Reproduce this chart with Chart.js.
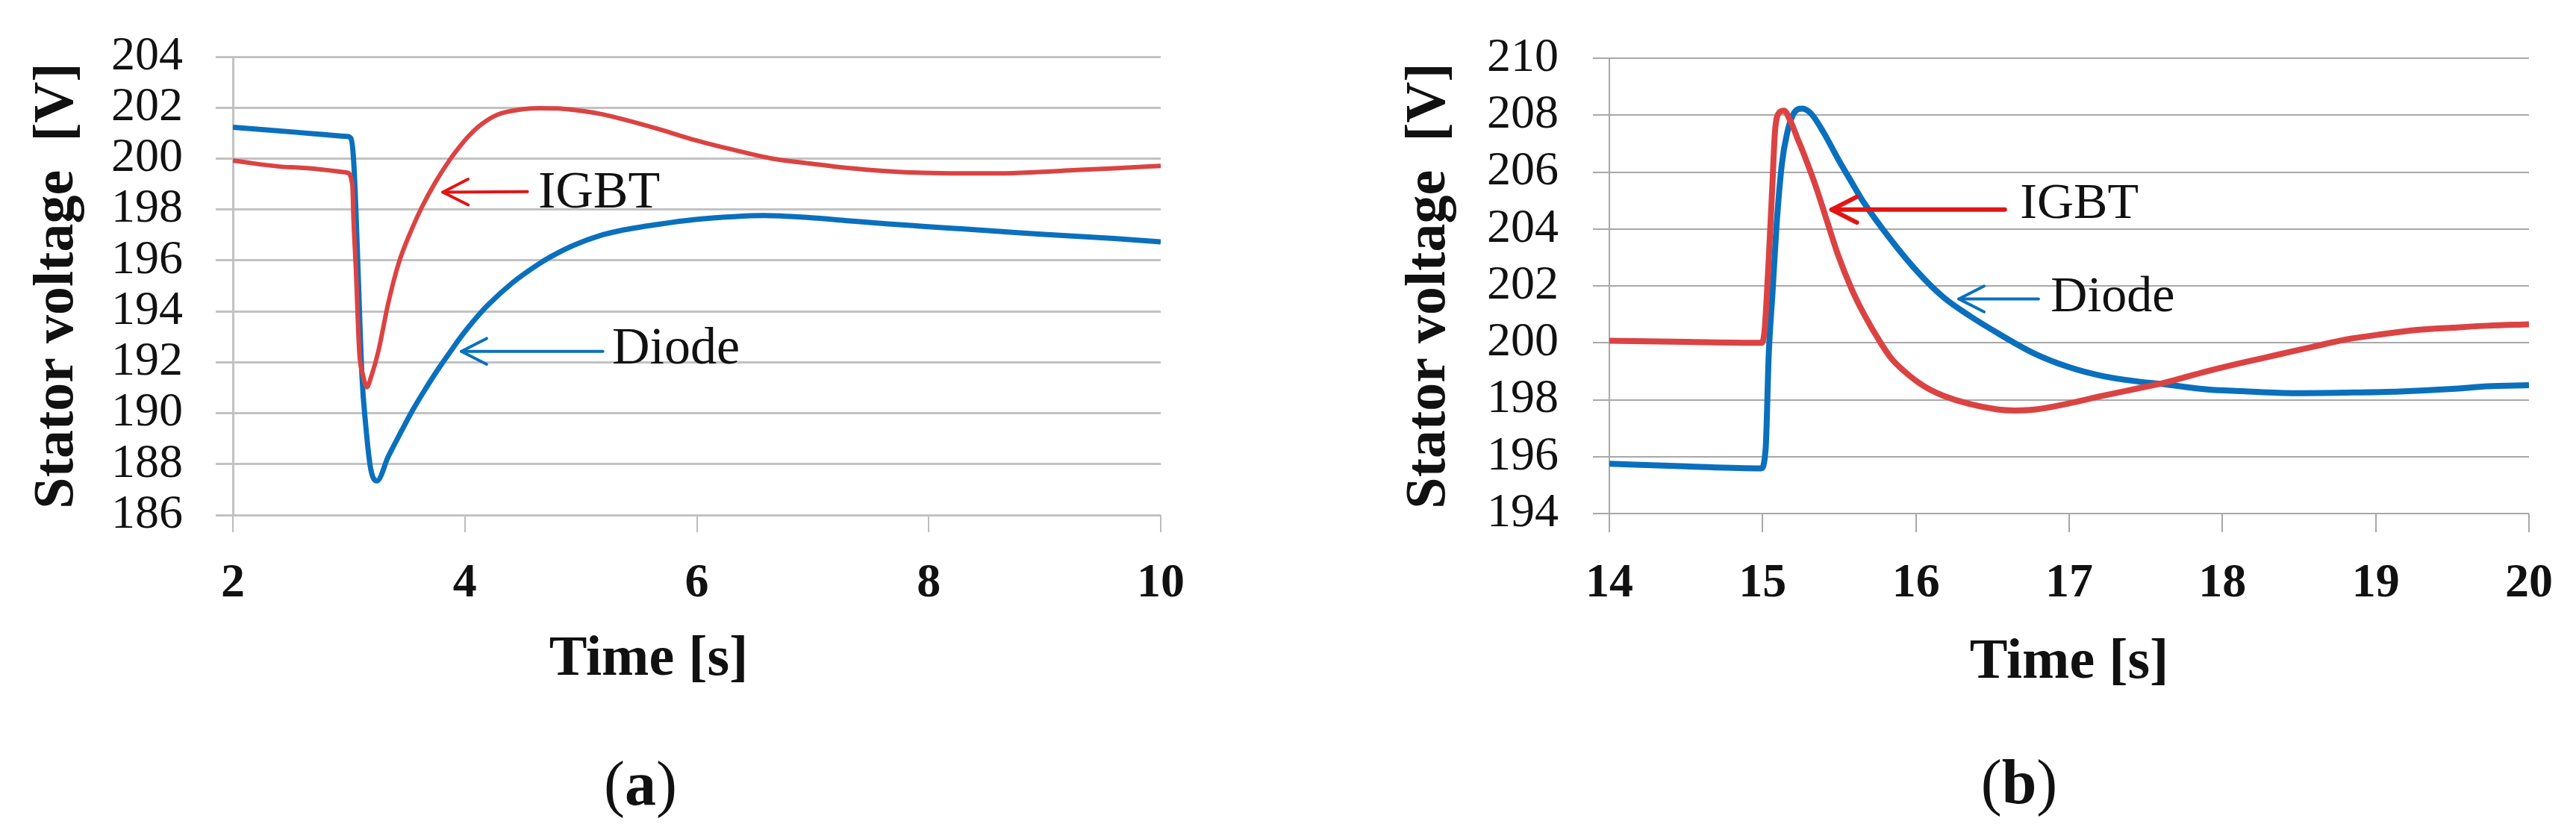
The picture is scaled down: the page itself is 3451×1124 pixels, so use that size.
<!DOCTYPE html>
<html>
<head>
<meta charset="utf-8">
<script src="https://cdn.jsdelivr.net/npm/chart.js@4.4.1/dist/chart.umd.min.js"></script>
<style>
  html, body { margin: 0; padding: 0; background: #fff; }
  #wrap { position: relative; width: 3451px; height: 1124px; overflow: hidden; background: #fff; }
  canvas { position: absolute; top: 0; }
  .lbl { position: absolute; font-family: 'Liberation Serif', 'Times New Roman', serif; color: #111;
         line-height: 1; white-space: nowrap; transform: translateY(-50%); }
  .cap { position: absolute; font-family: 'Liberation Serif', 'Times New Roman', serif; color: #111;
         line-height: 1; font-size: 84px; white-space: nowrap; transform: translate(-50%, -50%); }
</style>
</head>
<body>
<div id="wrap">
  <canvas id="cA" width="1738" height="1124" style="left:0px;width:1738px;height:1124px"></canvas>
  <canvas id="cB" width="1613" height="1124" style="left:1838px;width:1613px;height:1124px"></canvas>
  <div class="cap" style="left:858px;top:1050px">(<b>a</b>)</div>
  <div class="cap" style="left:2705px;top:1048px">(<b>b</b>)</div>
  <div id="lA1" class="lbl" style="font-size:70px">IGBT</div>
  <div id="lA2" class="lbl" style="font-size:70px">Diode</div>
  <div id="lB1" class="lbl" style="font-size:68px">IGBT</div>
  <div id="lB2" class="lbl" style="font-size:68px">Diode</div>
</div>
<script>
// ---------- Data ----------
// Chart (a): time 2..10 s
const igbtTimeA = [2.00, 2.50, 2.985, 3.03, 3.04, 3.06, 3.09, 3.124, 3.156, 3.19, 3.253, 3.34, 3.43, 3.54, 3.63, 3.75, 3.87, 3.97, 4.03, 4.13, 4.28, 4.50, 4.65, 4.80, 4.94, 5.16, 5.34, 5.67, 5.99, 6.32, 6.65, 6.97, 7.30, 7.63, 7.95, 8.28, 8.61, 8.94, 9.27, 9.60, 10.0];
const igbtVoltA = [199.92, 199.66, 199.45, 198.95, 197.6, 195.7, 192.4, 191.45, 191.02, 191.4, 192.41, 194.33, 195.9, 197.2, 198.1, 199.1, 199.95, 200.55, 200.87, 201.3, 201.72, 201.94, 201.98, 201.97, 201.91, 201.76, 201.57, 201.16, 200.72, 200.34, 200.0, 199.81, 199.63, 199.51, 199.44, 199.42, 199.42, 199.47, 199.55, 199.62, 199.71];
const diodeTimeA = [2.00, 2.50, 2.98, 3.017, 3.04, 3.06, 3.08, 3.113, 3.145, 3.188, 3.242, 3.34, 3.45, 3.55, 3.66, 3.77, 3.88, 3.98, 4.09, 4.20, 4.41, 4.63, 4.75, 4.94, 5.16, 5.34, 5.67, 5.99, 6.32, 6.58, 6.97, 7.30, 7.63, 7.95, 8.28, 8.61, 8.94, 9.27, 9.60, 10.0];
const diodeVoltA = [201.23, 201.05, 200.87, 200.80, 200.0, 198.07, 195.5, 191.45, 189.54, 187.82, 187.34, 188.30, 189.27, 190.12, 190.95, 191.73, 192.45, 193.08, 193.70, 194.25, 195.12, 195.84, 196.17, 196.6, 196.97, 197.17, 197.42, 197.61, 197.72, 197.76, 197.68, 197.56, 197.44, 197.34, 197.24, 197.14, 197.04, 196.95, 196.86, 196.73];

// Chart (b): time 14..20 s
const igbtTimeB = [14.00, 14.50, 14.99, 15.01, 15.04, 15.065, 15.08, 15.11, 15.14, 15.18, 15.23, 15.28, 15.35, 15.42, 15.49, 15.58, 15.66, 15.77, 15.84, 15.92, 16.01, 16.09, 16.18, 16.35, 16.53, 16.65, 16.77, 16.99, 17.22, 17.45, 17.61, 17.90, 18.13, 18.36, 18.59, 18.81, 19.04, 19.27, 19.50, 19.73, 20.00];
const igbtVoltB = [200.07, 200.03, 200.0, 200.29, 202.94, 205.7, 207.37, 208.1, 208.16, 207.81, 207.15, 206.48, 205.45, 204.28, 203.12, 201.9, 201.02, 200.0, 199.45, 199.02, 198.63, 198.36, 198.14, 197.85, 197.66, 197.62, 197.65, 197.86, 198.14, 198.40, 198.58, 199.0, 199.30, 199.58, 199.86, 200.12, 200.30, 200.45, 200.53, 200.60, 200.65];
const diodeTimeB = [14.00, 14.50, 14.99, 15.02, 15.04, 15.065, 15.09, 15.125, 15.16, 15.20, 15.26, 15.32, 15.40, 15.49, 15.58, 15.66, 15.84, 16.01, 16.18, 16.35, 16.54, 16.77, 16.99, 17.22, 17.45, 17.61, 17.90, 18.13, 18.47, 18.81, 19.16, 19.50, 19.73, 20.00];
const diodeVoltB = [195.75, 195.66, 195.59, 196.3, 199.6, 201.8, 204.05, 206.26, 207.37, 208.03, 208.23, 208.03, 207.37, 206.48, 205.65, 204.93, 203.6, 202.5, 201.6, 200.95, 200.32, 199.63, 199.16, 198.83, 198.64, 198.55, 198.36, 198.30, 198.23, 198.25, 198.29, 198.38, 198.47, 198.51];

// Axis ranges / tick steps
const xRangeA = [2, 10], xStepA = 2, yRangeA = [186, 204], yStepA = 2;
const xRangeB = [14, 20], xStepB = 1, yRangeB = [194, 210], yStepB = 2;

// Annotation anchors in data units (time, voltage)
const arrowsA = [
  { tip: [3.81, 198.68], tail: [4.54, 198.70], kind: 'igbt' },
  { tip: [3.97, 192.43], tail: [5.19, 192.43], kind: 'diode' }
];
const labelsA = [
  { id: 'lA1', at: [4.632, 198.75] },
  { id: 'lA2', at: [5.27, 192.63] }
];
const arrowsB = [
  { tip: [15.45, 204.68], tail: [16.58, 204.68], kind: 'igbt' },
  { tip: [16.28, 201.54], tail: [16.80, 201.54], kind: 'diode' }
];
const labelsB = [
  { id: 'lB1', at: [16.68, 204.99] },
  { id: 'lB2', at: [16.88, 201.72] }
];

// ---------- Rendering ----------
Chart.defaults.font.family = "'Liberation Serif', 'Times New Roman', serif";
Chart.defaults.color = '#111';

const RED = '#db4343', BLUE = '#0a70bd';
const ARROW_RED = '#e31414', ARROW_BLUE = '#0a70bd';

function xy(ts, vs) { return ts.map((t, i) => ({ x: t, y: vs[i] })); }

function annotPlugin(arrows, labels, canvasLeft, widths) {
  return {
    id: 'annot',
    afterDatasetsDraw(chart) {
      const { ctx } = chart;
      const xs = chart.scales.x, ys = chart.scales.y;
      arrows.forEach(a => {
        const tx = xs.getPixelForValue(a.tip[0]), ty = ys.getPixelForValue(a.tip[1]);
        const sx = xs.getPixelForValue(a.tail[0]), sy = ys.getPixelForValue(a.tail[1]);
        ctx.save();
        ctx.strokeStyle = a.kind === 'igbt' ? ARROW_RED : ARROW_BLUE;
        ctx.lineWidth = widths[a.kind];
        ctx.lineCap = 'round';
        ctx.lineJoin = 'round';
        ctx.beginPath(); ctx.moveTo(sx, sy); ctx.lineTo(tx, ty); ctx.stroke();
        const ang = Math.atan2(sy - ty, sx - tx);
        const L = 38, th = 27 * Math.PI / 180;
        ctx.beginPath();
        ctx.moveTo(tx + L * Math.cos(ang + th), ty + L * Math.sin(ang + th));
        ctx.lineTo(tx, ty);
        ctx.lineTo(tx + L * Math.cos(ang - th), ty + L * Math.sin(ang - th));
        ctx.stroke();
        ctx.restore();
      });
    },
    afterRender(chart) {
      const xs = chart.scales.x, ys = chart.scales.y;
      labels.forEach(l => {
        const el = document.getElementById(l.id);
        el.style.left = (canvasLeft + xs.getPixelForValue(l.at[0])) + 'px';
        el.style.top = ys.getPixelForValue(l.at[1]) + 'px';
      });
    }
  };
}

// Chart (a)
new Chart(document.getElementById('cA'), {
  type: 'line',
  data: {
    datasets: [
      { label: 'IGBT', data: xy(igbtTimeA, igbtVoltA), xAxisID: 'x', yAxisID: 'y',
        borderColor: RED, borderWidth: 6, pointRadius: 0, fill: false, cubicInterpolationMode: 'monotone' },
      { label: 'Diode', data: xy(diodeTimeA, diodeVoltA), xAxisID: 'x', yAxisID: 'y',
        borderColor: BLUE, borderWidth: 7, pointRadius: 0, fill: false, cubicInterpolationMode: 'monotone' }
    ]
  },
  options: {
    responsive: false, animation: false, devicePixelRatio: 1,
    layout: { padding: { top: 63, left: 0, right: 0, bottom: 194.4 } },
    plugins: {
      legend: { display: false }, tooltip: { enabled: false },
      title: { display: true, position: 'bottom', text: 'Time [s]', color: '#111',
               font: { size: 76, weight: 'bold' }, padding: 0 }
    },
    scales: {
      x: { type: 'linear', min: xRangeA[0], max: xRangeA[1],
           afterFit: s => { s.height = 148.4; },
           ticks: { stepSize: xStepA, font: { size: 64, weight: 'bold' }, padding: 31, maxRotation: 0, autoSkip: false, color: '#111' },
           grid: { drawOnChartArea: false, drawTicks: true, tickLength: 23, color: '#bdbdbd', lineWidth: 2 },
           border: { display: false } },
      y: { type: 'linear', position: 'left', min: yRangeA[0], max: yRangeA[1],
           afterFit: s => { s.width = 312; },
           ticks: { stepSize: yStepA, font: { size: 64, lineHeight: 1 }, padding: 44, color: '#111', autoSkip: false },
           grid: { color: '#c2c2c2', lineWidth: 3, tickLength: 23 },
           border: { display: true, color: '#c2c2c2', width: 3 },
           title: { display: true, text: 'Stator voltage  [V]', color: '#111',
                    font: { size: 76, weight: 'bold' }, padding: { top: 31.4, bottom: 0 } } },
      yR: { type: 'linear', position: 'right', display: true,
            afterFit: s => { s.width = 183; },
            grid: { display: false }, ticks: { display: false }, border: { display: false } }
    }
  },
  plugins: [annotPlugin(arrowsA, labelsA, 0, { igbt: 4, diode: 4 })]
});

// Chart (b)
new Chart(document.getElementById('cB'), {
  type: 'line',
  data: {
    datasets: [
      { label: 'IGBT', data: xy(igbtTimeB, igbtVoltB), xAxisID: 'x', yAxisID: 'y',
        borderColor: RED, borderWidth: 8, pointRadius: 0, fill: false, cubicInterpolationMode: 'monotone' },
      { label: 'Diode', data: xy(diodeTimeB, diodeVoltB), xAxisID: 'x', yAxisID: 'y',
        borderColor: BLUE, borderWidth: 8, pointRadius: 0, fill: false, cubicInterpolationMode: 'monotone' }
    ]
  },
  options: {
    responsive: false, animation: false, devicePixelRatio: 1,
    layout: { padding: { top: 66, left: 0, right: 56, bottom: 186 } },
    plugins: { legend: { display: false }, tooltip: { enabled: false } },
    scales: {
      x: { type: 'linear', min: xRangeB[0], max: xRangeB[1],
           afterFit: s => { s.height = 250; },
           ticks: { stepSize: xStepB, font: { size: 64, weight: 'bold' }, padding: 31, maxRotation: 0, autoSkip: false, color: '#111' },
           grid: { drawOnChartArea: false, drawTicks: true, tickLength: 25, color: '#a8a8a8', lineWidth: 2 },
           border: { display: false },
           title: { display: true, text: 'Time [s]', color: '#111',
                    font: { size: 76, weight: 'bold' }, padding: { top: 0, bottom: 4.4 } } },
      y: { type: 'linear', position: 'left', min: yRangeB[0], max: yRangeB[1],
           afterFit: s => { s.width = 318; },
           ticks: { stepSize: yStepB, font: { size: 64, lineHeight: 1 }, padding: 46, color: '#111', autoSkip: false },
           grid: { color: '#a8a8a8', lineWidth: 2, tickLength: 22 },
           border: { display: true, color: '#a8a8a8', width: 2 },
           title: { display: true, text: 'Stator voltage  [V]', color: '#111',
                    font: { size: 76, weight: 'bold' }, padding: { top: 31.4, bottom: 0 } } }
    }
  },
  plugins: [annotPlugin(arrowsB, labelsB, 1838, { igbt: 6, diode: 4 })]
});
</script>
</body>
</html>
